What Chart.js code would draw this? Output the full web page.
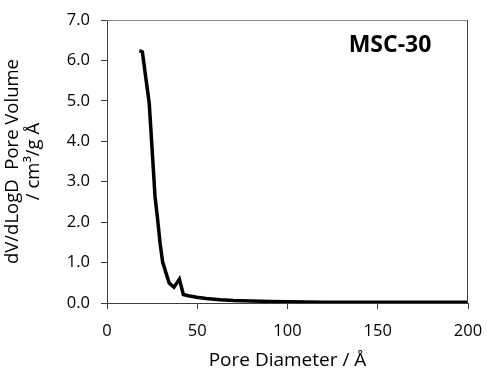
<!DOCTYPE html>
<html>
<head>
<meta charset="utf-8">
<script src="https://cdn.jsdelivr.net/npm/chart.js@4"></script>
<style>
  html, body { margin: 0; padding: 0; background: #fff; }
  #wrap { width: 487px; height: 372px; }
</style>
</head>
<body>
<div id="wrap"><canvas id="grafico" width="487" height="372"></canvas></div>
<script>
// pore size distribution, MSC-30
const poreDiameter = [17.9, 19.6, 21.4, 23.4, 25.7, 26.6, 27.9, 29.4, 30.8, 32.5, 34.5, 37.1, 40.1, 42.3, 45, 49.7, 55, 62.6, 70, 80, 90, 100, 120, 150, 200];
const poreVolume   = [6.24, 6.21, 5.6, 4.94, 3.29, 2.63, 2.13, 1.48, 1.02, 0.77, 0.49, 0.39, 0.59, 0.21, 0.18, 0.14, 0.11, 0.08, 0.06, 0.05, 0.04, 0.03, 0.02, 0.02, 0.02];
const xTicks = [0, 50, 100, 150, 200];
const yTicks = [0, 1, 2, 3, 4, 5, 6, 7];
const sampleName = 'MSC-30';

const fuente = '"Open Sans", sans-serif';

// caja del area y etiqueta de la muestra
const marco = {
  id: 'marco',
  afterDraw(chart) {
    const { ctx, chartArea: a } = chart;
    ctx.save();
    ctx.lineWidth = 1;
    ctx.strokeStyle = '#8c8c8c';
    ctx.beginPath();
    ctx.moveTo(a.left, a.top + 0.5);
    ctx.lineTo(a.right, a.top + 0.5);
    ctx.stroke();
    ctx.strokeStyle = '#404040';
    ctx.beginPath();
    ctx.moveTo(a.right - 0.5, a.top);
    ctx.lineTo(a.right - 0.5, a.bottom);
    ctx.stroke();
    ctx.fillStyle = '#000';
    ctx.font = 'bold 23px ' + fuente;
    ctx.textAlign = 'center';
    ctx.textBaseline = 'middle';
    ctx.fillText(sampleName, a.left + 283, a.top + 25);
    ctx.restore();
  }
};

new Chart(document.getElementById('grafico').getContext('2d'), {
  type: 'scatter',
  data: {
    datasets: [{
      data: poreDiameter.map((x, i) => ({ x: x, y: poreVolume[i] })),
      showLine: true,
      borderColor: '#000',
      borderWidth: 3.5,
      pointRadius: 0,
      tension: 0
    }]
  },
  options: {
    responsive: false,
    animation: false,
    layout: { padding: { top: 20, right: 19, left: 0, bottom: 0 } },
    plugins: { legend: { display: false }, tooltip: { enabled: false } },
    scales: {
      x: {
        type: 'linear', min: 0, max: 200,
        afterBuildTicks: s => { s.ticks = xTicks.map(v => ({ value: v })); },
        afterFit: s => { s.height = 69; s.paddingLeft = 0; s.paddingRight = 0; },
        grid: { drawOnChartArea: false, tickLength: 6, color: '#404040' },
        border: { color: '#404040', width: 1 },
        ticks: { color: '#000', font: { family: fuente, size: 16.5 }, padding: 12, maxRotation: 0 },
        title: { display: true, text: 'Pore Diameter / Å', color: '#000', font: { family: fuente, size: 19 }, padding: { top: 0, bottom: 0 } }
      },
      y: {
        type: 'linear', min: 0, max: 7,
        afterBuildTicks: s => { s.ticks = yTicks.map(v => ({ value: v })); },
        afterFit: s => { s.width = 107; s.paddingTop = 0; s.paddingBottom = 0; },
        grid: { drawOnChartArea: false, tickLength: 6, color: '#404040' },
        border: { color: '#404040', width: 1 },
        ticks: { color: '#000', font: { family: fuente, size: 16.5 }, padding: 11, callback: v => v.toFixed(1) },
        title: { display: true, text: ['dV/dLogD  Pore Volume', '/ cm³/g Å'], color: '#000', font: { family: fuente, size: 18.5, lineHeight: 1.1 }, padding: { top: 3, bottom: 0 } }
      }
    }
  },
  plugins: [marco]
});
</script>
</body>
</html>
